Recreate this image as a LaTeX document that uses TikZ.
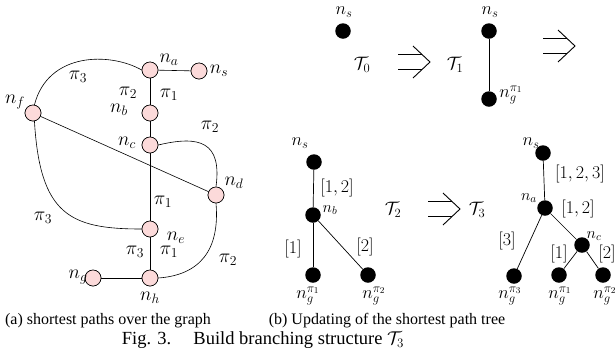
\RequirePackage{fix-cm}
\documentclass[tikz,border=0pt]{standalone}
\usepackage{fontspec}
\setmainfont{Liberation Serif}
\definecolor{nodepink}{RGB}{252,218,218}
\tikzset{
  gnode/.style={circle,draw=black,line width=0.6pt,fill=nodepink,minimum size=16pt,inner sep=0pt},
  tdot/.style={circle,fill=black,minimum size=15.5pt,inner sep=0pt},
  lab/.style={font=\fontsize{19.5}{19.5}\selectfont,inner sep=0pt},
  tlab/.style={font=\fontsize{18}{18}\selectfont,inner sep=0pt},
  slab/.style={font=\fontsize{16}{16}\selectfont,inner sep=0pt},
  big/.style={font=\fontsize{18}{18}\selectfont,inner sep=0pt},
  subcaption/.style={font=\fontsize{16}{16}\selectfont,inner sep=0pt},
  figcaption/.style={font=\fontsize{18.5}{18.5}\selectfont,inner sep=0pt},
  gedge/.style={line width=0.6pt},
  tedge/.style={line width=0.7pt},
  bigarrow/.pic={\draw[line width=0.9pt] (-32,-7.5) -- (-8,-7.5) (-32,7.5) -- (-8,7.5) (-17,-16) -- (0,0) -- (-17,16);}
}
\begin{document}
\begin{tikzpicture}[x=1pt,y=-1pt]
\useasboundingbox (0,0) rectangle (616,360);
% ---------- left graph ----------
\node[gnode] (na) at (150,70) {};
\node[gnode] (ns) at (199,71) {};
\node[gnode] (nb) at (150,113) {};
\node[gnode] (nc) at (150,145) {};
\node[gnode] (nf) at (33,113) {};
\node[gnode] (nd) at (216,195) {};
\node[gnode] (ne) at (150,229) {};
\node[gnode] (nh) at (150,278) {};
\node[gnode] (ng) at (93,278) {};
\draw[gedge] (na) -- (ns);
\draw[gedge] (na) -- (nb);
\draw[gedge] (nb) -- (nc);
\draw[gedge] (nc) -- (ne);
\draw[gedge] (ne) -- (nh);
\draw[gedge] (ng) -- (nh);
\draw[gedge] (nf) -- (nd);
\draw[gedge] (nf.80) .. controls (48,52) and (110,52) .. (na.west);
\draw[gedge] (nf.-80) .. controls (40,215) and (70,229) .. (ne.west);
\draw[gedge] (nc.east) .. controls (200,135) and (222,142) .. (nd.north);
\draw[gedge] (nd.south) .. controls (220,250) and (200,275) .. (nh.east);
% redraw nodes on top
\node[gnode] at (na) {};
\node[gnode] at (nb) {};
\node[gnode] at (nc) {};
\node[gnode] at (nf) {};
\node[gnode] at (nd) {};
\node[gnode] at (ne) {};
\node[gnode] at (nh) {};
\node[gnode] at (ng) {};
\node[gnode] at (ns) {};
% labels
\node[lab] (lna) at (169,60) {$n_a$};
\node[lab] (lns) at (219,71) {$n_s$};
\node[lab] (lnb) at (119,110) {$n_b$};
\node[lab] (lnc) at (127,143) {$n_c$};
\node[lab] (lnf) at (15,102) {$n_f$};
\node[lab] (lnd) at (234,183) {$n_d$};
\node[lab] (lne) at (176,238) {$n_e$};
\node[lab] (lng) at (78,277) {$n_g$};
\node[lab] (lnh) at (150,298) {$n_h$};
\node[lab] (p1) at (78,77) {$\pi_3$};
\node[lab] (p2) at (128,93) {$\pi_2$};
\node[lab] (p3) at (169,95) {$\pi_1$};
\node[lab] (p4) at (210,127) {$\pi_2$};
\node[lab] (p5) at (163,202) {$\pi_1$};
\node[lab] (p6) at (43,218) {$\pi_3$};
\node[lab] (p7) at (135,252) {$\pi_3$};
\node[lab] (p8) at (169,252) {$\pi_1$};
\node[lab] (p9) at (228,260) {$\pi_2$};
% ---------- T0, T1 ----------
\node[tdot] (a0s) at (343,31) {};
\node[tlab] (la0s) at (344,12) {$n_s$};
\node[big] (T0) at (362,65) {$\mathcal{T}_0$};
\pic at (430,62) {bigarrow};
\node[big] (T1) at (455,65) {$\mathcal{T}_1$};
\node[tdot] (a1s) at (489,31) {};
\node[tdot] (a1g) at (489,99) {};
\draw[tedge] (a1s) -- (a1g);
\node[tlab] (la1s) at (490,12) {$n_s$};
\node[tlab] (la1g) at (511,95) {$n_g^{\pi_1}$};
\pic at (575,46) {bigarrow};
% ---------- T2 ----------
\node[tdot] (b2s) at (314,162) {};
\node[tdot] (b2b) at (313,215) {};
\node[tdot] (b2g1) at (313,275) {};
\node[tdot] (b2g2) at (368,275) {};
\draw[tedge] (b2s) -- (b2b);
\draw[tedge] (b2b) -- (b2g1);
\draw[tedge] (b2b) -- (b2g2);
\node[tlab] (lb2s) at (300,143) {$n_s$};
\node[slab] (lb2b) at (330,210) {$n_b$};
\node[big] (e1) at (337,188) {$[1,2]$};
\node[big] (e2) at (293,249) {$[1]$};
\node[big] (e3) at (365,247) {$[2]$};
\node[tlab] (lb2g1) at (308,296) {$n_g^{\pi_1}$};
\node[tlab] (lb2g2) at (374,296) {$n_g^{\pi_2}$};
\node[big] (T2) at (393,210) {$\mathcal{T}_2$};
\pic at (460,209) {bigarrow};
\node[big] (T3) at (477,210) {$\mathcal{T}_3$};
% ---------- T3 ----------
\node[tlab] (lc3s) at (531,143) {$n_s$};
\node[tdot] (c3s) at (543,153) {};
\node[tdot] (c3a) at (545,208) {};
\node[tdot] (c3c) at (582,245) {};
\node[tdot] (c3g3) at (514,276) {};
\node[tdot] (c3g1) at (559,275) {};
\node[tdot] (c3g2) at (603,275) {};
\draw[tedge] (c3s) -- (c3a);
\draw[tedge] (c3a) -- (c3g3);
\draw[tedge] (c3a) -- (c3c);
\draw[tedge] (c3c) -- (c3g1);
\draw[tedge] (c3c) -- (c3g2);
\node[slab] (lc3a) at (529,198) {$n_a$};
\node[slab] (lc3c) at (594,236) {$n_c$};
\node[big] (f1) at (580,174) {$[1,2,3]$};
\node[big] (f2) at (578,209) {$[1,2]$};
\node[big] (f3) at (507,241) {$[3]$};
\node[big] (f4) at (559,254) {$[1]$};
\node[big] (f5) at (607,254) {$[2]$};
\node[tlab] (lc3g3) at (510,296) {$n_g^{\pi_3}$};
\node[tlab] (lc3g1) at (560,296) {$n_g^{\pi_1}$};
\node[tlab] (lc3g2) at (605,296) {$n_g^{\pi_2}$};
% ---------- captions ----------
\node[subcaption] (capa) at (108,321) {(a) shortest paths over the graph};
\node[subcaption] (capb) at (387,321) {(b) Updating of the shortest path tree};
\node[figcaption] (capf) at (263,340) {Fig. 3.\hspace{1.2em}Build branching structure $\mathcal{T}_3$};
\end{tikzpicture}
\end{document}
